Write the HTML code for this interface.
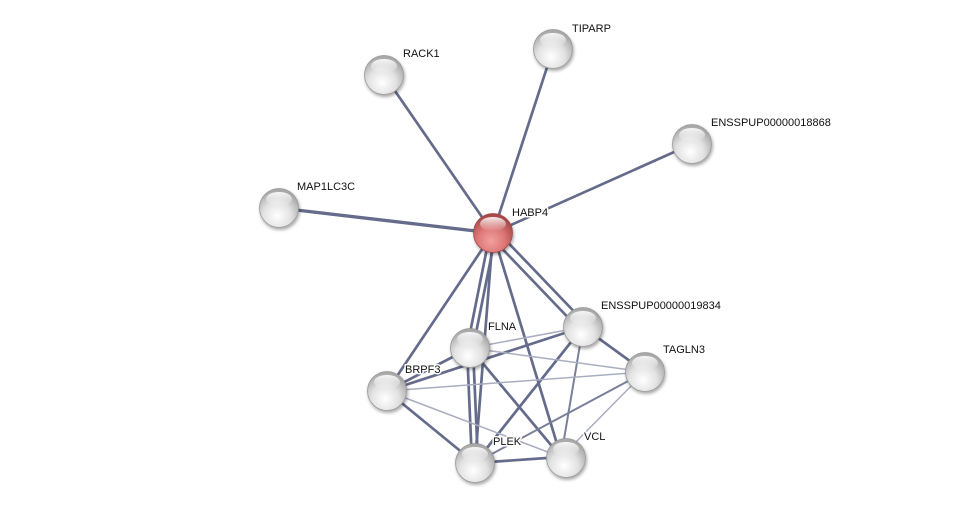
<!DOCTYPE html>
<html><head><style>html,body{margin:0;padding:0;background:#fff;}svg{display:block}text{font-family:"Liberation Sans",sans-serif;font-size:11px;fill:#111;stroke:#fff;stroke-width:3px;paint-order:stroke;stroke-linejoin:round;}</style></head>
<body>
<svg width="976" height="508" viewBox="0 0 976 508" xmlns="http://www.w3.org/2000/svg">
<defs>
<radialGradient id="g" cx="45%" cy="70%" r="65%">
<stop offset="0" stop-color="#ffffff"/><stop offset="0.55" stop-color="#e2e2e2"/><stop offset="1" stop-color="#a8a8a8"/>
</radialGradient>
<radialGradient id="r" cx="45%" cy="70%" r="65%">
<stop offset="0" stop-color="#f2a0a0"/><stop offset="0.55" stop-color="#dc7676"/><stop offset="1" stop-color="#a84848"/>
</radialGradient>
<linearGradient id="hl" x1="0" y1="0" x2="0" y2="1"><stop offset="0" stop-color="#fff" stop-opacity="0.9"/><stop offset="1" stop-color="#fff" stop-opacity="0"/></linearGradient>
<filter id="sh" x="-30%" y="-30%" width="160%" height="160%"><feDropShadow dx="1" dy="2" stdDeviation="1.5" flood-color="#000" flood-opacity="0.35"/></filter>
</defs>
<g stroke-linecap="round">
<g stroke="#656b8a" stroke-width="2.7">
<line x1="493" y1="233" x2="384" y2="75"/>
<line x1="493" y1="233" x2="553" y2="49"/>
<line x1="493" y1="233" x2="692" y2="144"/>
<line x1="493" y1="233" x2="279" y2="208" stroke-width="3.3"/>
<line x1="493" y1="233" x2="387" y2="391"/>
<line x1="490" y1="233" x2="467" y2="348"/>
<line x1="496" y1="233" x2="473" y2="348"/>
<line x1="493" y1="233" x2="475" y2="463"/>
<line x1="493" y1="233" x2="561" y2="457"/>
<line x1="490" y1="236" x2="580" y2="330"/>
<line x1="496" y1="230" x2="586" y2="324"/>
<line x1="387" y1="391" x2="583" y2="327"/>
<line x1="387" y1="391" x2="470" y2="348"/>
<line x1="387" y1="391" x2="475" y2="463"/>
<line x1="467" y1="348" x2="472" y2="463"/>
<line x1="473" y1="348" x2="478" y2="463"/>
<line x1="470" y1="348" x2="561" y2="457"/>
<line x1="475" y1="463" x2="583" y2="327"/>
<line x1="475" y1="463" x2="561" y2="457"/>
<line x1="583" y1="327" x2="645" y2="372"/>
</g>
<g stroke="#7a809b" stroke-width="2">
<line x1="561" y1="457" x2="583" y2="327"/>
<line x1="475" y1="463" x2="645" y2="372"/>
</g>
<g stroke="#a8adc0" stroke-width="1.5">
<line x1="470" y1="348" x2="583" y2="327"/>
<line x1="470" y1="348" x2="645" y2="372"/>
<line x1="387" y1="391" x2="645" y2="372"/>
<line x1="387" y1="391" x2="561" y2="457"/>
<line x1="561" y1="457" x2="645" y2="372"/>
</g>
</g>
<g filter="url(#sh)">
<circle cx="384" cy="75" r="19.5" fill="url(#g)" stroke="#999" stroke-width="0.8"/>
<circle cx="553" cy="49" r="19.5" fill="url(#g)" stroke="#999" stroke-width="0.8"/>
<circle cx="692" cy="144" r="19.5" fill="url(#g)" stroke="#999" stroke-width="0.8"/>
<circle cx="279" cy="208" r="19.5" fill="url(#g)" stroke="#999" stroke-width="0.8"/>
<circle cx="493" cy="233" r="19.5" fill="url(#r)" stroke="#a04848" stroke-width="0.8"/>
<circle cx="583" cy="327" r="19.5" fill="url(#g)" stroke="#999" stroke-width="0.8"/>
<circle cx="470" cy="348" r="19.5" fill="url(#g)" stroke="#999" stroke-width="0.8"/>
<circle cx="645" cy="372" r="19.5" fill="url(#g)" stroke="#999" stroke-width="0.8"/>
<circle cx="387" cy="391" r="19.5" fill="url(#g)" stroke="#999" stroke-width="0.8"/>
<circle cx="475" cy="463" r="19.5" fill="url(#g)" stroke="#999" stroke-width="0.8"/>
<circle cx="566" cy="458" r="19.5" fill="url(#g)" stroke="#999" stroke-width="0.8"/>
</g>
<g fill="url(#hl)">
<ellipse cx="384" cy="66" rx="13" ry="7"/>
<ellipse cx="553" cy="40" rx="13" ry="7"/>
<ellipse cx="692" cy="135" rx="13" ry="7"/>
<ellipse cx="279" cy="199" rx="13" ry="7"/>
<ellipse cx="493" cy="224" rx="13" ry="7"/>
<ellipse cx="583" cy="318" rx="13" ry="7"/>
<ellipse cx="470" cy="339" rx="13" ry="7"/>
<ellipse cx="645" cy="363" rx="13" ry="7"/>
<ellipse cx="387" cy="382" rx="13" ry="7"/>
<ellipse cx="475" cy="454" rx="13" ry="7"/>
<ellipse cx="566" cy="449" rx="13" ry="7"/>
</g>
<text x="403" y="57">RACK1</text>
<text x="572" y="32">TIPARP</text>
<text x="711" y="126">ENSSPUP00000018868</text>
<text x="297" y="190">MAP1LC3C</text>
<text x="512" y="216">HABP4</text>
<text x="601" y="309">ENSSPUP00000019834</text>
<text x="488" y="330">FLNA</text>
<text x="663" y="353">TAGLN3</text>
<text x="405" y="373">BRPF3</text>
<text x="493" y="445">PLEK</text>
<text x="584" y="440">VCL</text>
</svg>
</body></html>
